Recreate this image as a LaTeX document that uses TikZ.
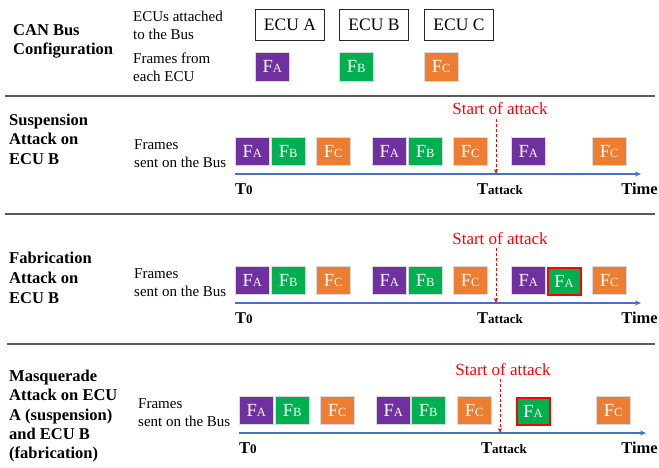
\documentclass[tikz,border=0pt]{standalone}
\usepackage{fontspec}
\setmainfont{Liberation Serif}
\usetikzlibrary{arrows.meta}

\definecolor{fpurple}{HTML}{7030A0}
\definecolor{fgreen}{HTML}{00B050}
\definecolor{forange}{HTML}{ED7D31}
\definecolor{busblue}{HTML}{4472C4}
\definecolor{alarmred}{HTML}{FF0000}
\definecolor{rulegray}{HTML}{595959}

% frame label: large F with a smaller ECU letter
\newcommand\flab[1]{F{\fontsize{12.5}{12.5}\selectfont #1}}

\tikzset{
  sectitle/.style={anchor=north west, inner sep=0pt, align=left,
    font=\fontsize{16.5}{19.8}\selectfont\bfseries},
  note/.style={anchor=north west, inner sep=0pt, align=left,
    font=\fontsize{15}{18}\selectfont},
  ecubox/.style={anchor=north west, draw=black!85, line width=0.9pt,
    minimum width=69pt, minimum height=31pt, inner sep=0pt,
    font=\fontsize{17.5}{17.5}\selectfont},
  frame/.style={anchor=north west, draw=white!85!black, line width=0.4pt,
    minimum width=34pt, minimum height=28pt, inner sep=0pt, text=white,
    font=\fontsize{18.5}{18.5}\selectfont},
  fa/.style={frame, fill=fpurple},
  fb/.style={frame, fill=fgreen},
  fc/.style={frame, fill=forange},
  fake/.style={frame, fill=fgreen, draw=alarmred, line width=2pt,
    minimum width=33pt, minimum height=27pt},
  bus/.style={draw=busblue, line width=1.5pt, -{Stealth[length=6pt,width=5pt]}},
  attack/.style={draw=alarmred, line width=0.9pt, dash pattern=on 3pt off 2pt,
    -{Stealth[length=5pt,width=4pt]}},
  startlbl/.style={anchor=base, inner sep=0pt, text=alarmred,
    font=\fontsize{17}{17}\selectfont},
  tlbl/.style={inner sep=0pt, font=\fontsize{16.5}{16.5}\selectfont\bfseries},
  sep/.style={draw=rulegray, line width=1.2pt},
}
\newcommand\tsmall[1]{{\fontsize{13}{13}\selectfont #1}}

\begin{document}
\begin{tikzpicture}[x=1pt, y=-1pt]
\useasboundingbox (0,0) rectangle (659,468);

% ---------- CAN bus configuration ----------
\node[sectitle] (t1) at (13,24) {CAN Bus\\Configuration};
\node[note] (n1a) at (133,10.5) {ECUs attached\\to the Bus};
\node[note] (n1b) at (133,52.5) {Frames from\\each ECU};
\node[ecubox] (ea) at (255,9) {ECU A};
\node[ecubox] (eb) at (339,9) {ECU B};
\node[ecubox] (ec) at (424,9) {ECU C};
\node[fa, minimum height=29pt] (ca) at (255,52) {\flab{A}};
\node[fb, minimum height=29pt] (cb) at (339,52) {\flab{B}};
\node[fc, minimum height=29pt] (cc) at (424,52) {\flab{C}};

\draw[sep] (5,96) -- (655,96);

% ---------- suspension attack ----------
\node[sectitle] (t2) at (9,113.5) {Suspension\\Attack on\\ECU B};
\node[note] (n2) at (134,139.5) {Frames\\sent on the Bus};
\node[fa] (s1) at (235,137) {\flab{A}};
\node[fb] (s2) at (271,137) {\flab{B}};
\node[fc] (s3) at (316,137) {\flab{C}};
\node[fa] (s4) at (372,137) {\flab{A}};
\node[fb] (s5) at (408,137) {\flab{B}};
\node[fc] (s6) at (453,137) {\flab{C}};
\node[fa] (s7) at (511,137) {\flab{A}};
\node[fc] (s8) at (592,137) {\flab{C}};
\coordinate (s0) at (235,174);
\coordinate (se) at (641,174);
\coordinate (sx) at (496,174);
\draw[bus] (s0) -- (se);
\node[tlbl, anchor=base west] (st0) at (235,194) {T\tsmall{0}};
\node[tlbl, anchor=base] (sta) at (500,194) {T\tsmall{attack}};
\node[tlbl, anchor=base east] (stm) at (658,194) {Time};
\node[startlbl] (ss) at (500,115) {Start of attack};
\draw[attack] (ss.south -| sx) ++(0,4) -- (sx);

\draw[sep] (5,214) -- (655,214);

% ---------- fabrication attack ----------
\node[sectitle] (t3) at (9,252) {Fabrication\\Attack on\\ECU B};
\node[note] (n3) at (134,268.5) {Frames\\sent on the Bus};
\node[fa] (f1) at (235,266) {\flab{A}};
\node[fb] (f2) at (271,266) {\flab{B}};
\node[fc] (f3) at (316,266) {\flab{C}};
\node[fa] (f4) at (372,266) {\flab{A}};
\node[fb] (f5) at (408,266) {\flab{B}};
\node[fc] (f6) at (453,266) {\flab{C}};
\node[fa] (f7) at (511,266) {\flab{A}};
\node[fake] (f8) at (546.5,266.5) {\flab{A}};
\node[fc] (f9) at (592,266) {\flab{C}};
\coordinate (f0) at (235,303);
\coordinate (fe) at (641,303);
\coordinate (fx) at (496,303);
\draw[bus] (f0) -- (fe);
\node[tlbl, anchor=base west] (ft0) at (235,323) {T\tsmall{0}};
\node[tlbl, anchor=base] (fta) at (500,323) {T\tsmall{attack}};
\node[tlbl, anchor=base east] (ftm) at (658,323) {Time};
\node[startlbl] (fs) at (500,244) {Start of attack};
\draw[attack] (fs.south -| fx) ++(0,4) -- (fx);

\draw[sep] (7,344) -- (655,344);

% ---------- masquerade attack ----------
\node[sectitle, font=\fontsize{16.5}{19.3}\selectfont\bfseries] (t4) at (9,370) {Masquerade\\Attack on ECU\\A (suspension)\\and ECU B\\(fabrication)};
\node[note] (n4) at (138,398.5) {Frames\\sent on the Bus};
\node[fa] (m1) at (239,396) {\flab{A}};
\node[fb] (m2) at (275,396) {\flab{B}};
\node[fc] (m3) at (320,396) {\flab{C}};
\node[fa] (m4) at (376,396) {\flab{A}};
\node[fb] (m5) at (411,396) {\flab{B}};
\node[fc] (m6) at (457,396) {\flab{C}};
\node[fake] (m7) at (515.5,396.5) {\flab{A}};
\node[fc] (m8) at (596,396) {\flab{C}};
\coordinate (m0) at (239,433);
\coordinate (me) at (646,433);
\coordinate (mx) at (500,433);
\draw[bus] (m0) -- (me);
\node[tlbl, anchor=base west] (mt0) at (239,453) {T\tsmall{0}};
\node[tlbl, anchor=base] (mta) at (504,453) {T\tsmall{attack}};
\node[tlbl, anchor=base east] (mtm) at (658,453) {Time};
\node[startlbl] (ms) at (503,375) {Start of attack};
\draw[attack] (ms.south -| mx) ++(0,4) -- (mx);
\end{tikzpicture}
\end{document}
